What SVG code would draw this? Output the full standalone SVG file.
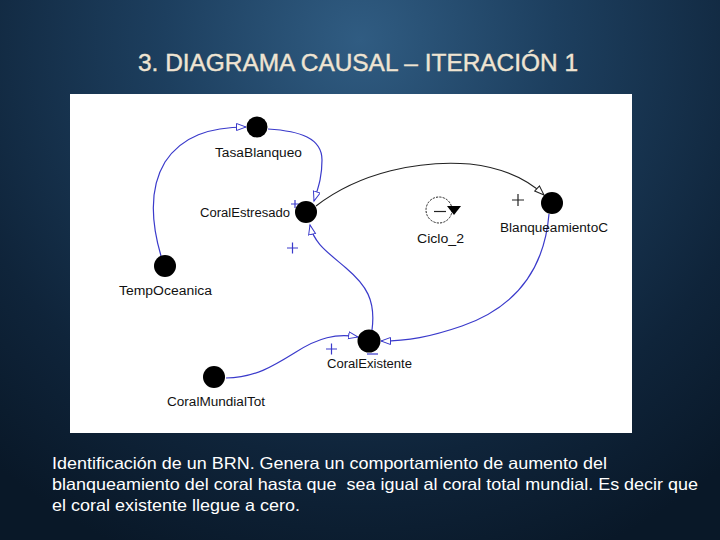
<svg xmlns="http://www.w3.org/2000/svg" width="720" height="540" viewBox="0 0 720 540">
<defs>
<radialGradient id="bg" cx="360" cy="40" r="560" gradientUnits="userSpaceOnUse">
<stop offset="0" stop-color="#305c82"/>
<stop offset="0.35" stop-color="#1d3f5f"/>
<stop offset="0.75" stop-color="#0f243a"/>
<stop offset="1" stop-color="#091828"/>
</radialGradient>
<marker id="ab" markerUnits="userSpaceOnUse" markerWidth="12" markerHeight="10" refX="10" refY="4" orient="auto">
<path d="M0.5,0.5 L10,4 L0.5,7.5 z" fill="#fff" stroke="#3a3acb" stroke-width="1"/>
</marker>
<marker id="ak" markerUnits="userSpaceOnUse" markerWidth="12" markerHeight="10" refX="10" refY="4" orient="auto">
<path d="M0.5,0.5 L10,4 L0.5,7.5 z" fill="#fff" stroke="#222" stroke-width="1"/>
</marker>
<style>
.lbl{font-family:"Liberation Sans",Arial,sans-serif;font-size:12.5px;fill:#111}
.blue{fill:none;stroke:#3a3acb;stroke-width:1.2}
.black{fill:none;stroke:#222;stroke-width:1.1}
.node{fill:#000}
.sgn{stroke:#3a3acb;stroke-width:1.2;fill:none}
.body{font-family:"Liberation Sans",Arial,sans-serif;font-size:16.5px;fill:#fff}
</style>
</defs>
<rect width="720" height="540" fill="url(#bg)"/>
<text x="138" y="71" font-family="Liberation Sans,Arial,sans-serif" font-size="24" fill="#efe4d2" stroke="#efe4d2" stroke-width="0.4" textLength="440" lengthAdjust="spacingAndGlyphs">3. DIAGRAMA CAUSAL – ITERACIÓN 1</text>
<rect x="70" y="94" width="562" height="339" fill="#fff"/>
<g id="connectors">
<path class="blue" d="M161,256 C152,225 148,190 165,162 C182,136 210,127 246,127" marker-end="url(#ab)"/>
<path class="blue" d="M268,129 C300,131 322,138 322,160 C322,178 318,188 314,201" marker-end="url(#ab)"/>
<path class="black" d="M316,206 C360,172 420,160 470,164 C505,168 528,180 544,195" marker-end="url(#ak)"/>
<path class="blue" d="M549,214 C545,262 522,305 462,326 C430,337 408,341 381,341" marker-end="url(#ab)"/>
<path class="blue" d="M226,378 C255,378 275,365 296,352 C318,338 336,333 358,337" marker-end="url(#ab)"/>
<path class="blue" d="M372,330 C376,300 366,285 346,268 C326,251 314,243 310,225" marker-end="url(#ab)"/>
</g>
<g id="signs">
<path class="sgn" d="M291,204 H299 M295,200 V208"/>
<path class="sgn" d="M287,248 H298 M292.5,242.5 V253.5"/>
<path d="M512,200 H524 M518,194 V206" stroke="#222" stroke-width="1.2" fill="none"/>
<path class="sgn" d="M326,349 H337 M331.5,343.5 V354.5"/>
<path class="sgn" d="M367,354 H378"/>
</g>
<g id="ciclo2">
<circle cx="439" cy="210" r="13" fill="none" stroke="#222" stroke-width="1" stroke-dasharray="2.2 1.2"/>
<line x1="434" y1="211.5" x2="446" y2="211.5" stroke="#222" stroke-width="1.2"/>
<polygon points="447,206 461,206 454,215" fill="#000"/>
<text class="lbl" x="417" y="243" textLength="47" lengthAdjust="spacingAndGlyphs">Ciclo_2</text>
</g>
<g id="TasaBlanqueo">
<circle class="node" cx="257" cy="127" r="10.5"/>
<text class="lbl" x="215" y="157" textLength="87" lengthAdjust="spacingAndGlyphs">TasaBlanqueo</text>
</g>
<g id="CoralEstresado">
<circle class="node" cx="306" cy="212" r="11"/>
<text class="lbl" x="200" y="217" textLength="90" lengthAdjust="spacingAndGlyphs">CoralEstresado</text>
</g>
<g id="BlanqueamientoC">
<circle class="node" cx="552" cy="203" r="11"/>
<text class="lbl" x="500" y="232" textLength="108" lengthAdjust="spacingAndGlyphs">BlanqueamientoC</text>
</g>
<g id="TempOceanica">
<circle class="node" cx="165" cy="266" r="11"/>
<text class="lbl" x="119" y="295" textLength="93" lengthAdjust="spacingAndGlyphs">TempOceanica</text>
</g>
<g id="CoralMundialTot">
<circle class="node" cx="214" cy="377" r="11"/>
<text class="lbl" x="167" y="406" textLength="98" lengthAdjust="spacingAndGlyphs">CoralMundialTot</text>
</g>
<g id="CoralExistente">
<circle class="node" cx="369" cy="341" r="11.5"/>
<text class="lbl" x="327" y="368" textLength="85" lengthAdjust="spacingAndGlyphs">CoralExistente</text>
</g>
<g id="caption">
<text class="body" x="52" y="469" textLength="555" lengthAdjust="spacingAndGlyphs">Identificación de un BRN. Genera un comportamiento de aumento del</text>
<text class="body" x="52" y="490" textLength="646" lengthAdjust="spacingAndGlyphs" xml:space="preserve">blanqueamiento del coral hasta que  sea igual al coral total mundial. Es decir que</text>
<text class="body" x="52" y="511" textLength="248" lengthAdjust="spacingAndGlyphs">el coral existente llegue a cero.</text>
</g>
</svg>
